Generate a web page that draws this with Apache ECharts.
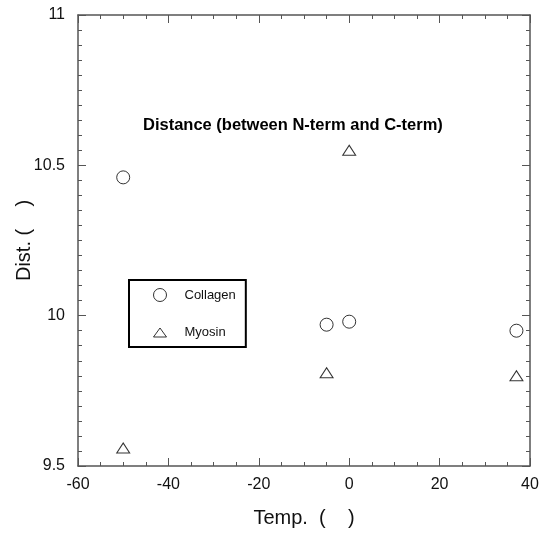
<!DOCTYPE html>
<html><head><meta charset="utf-8">
<script src="https://cdn.jsdelivr.net/npm/echarts@6/dist/echarts.min.js"></script>
<style>html,body{margin:0;padding:0;background:#fff}#c{width:544px;height:534px}</style>
</head><body><div id="c"></div>
<script>
const collagenTemp = [-50, -5, 0, 37];
const collagenDist = [10.46, 9.97, 9.98, 9.95];
const myosinTemp = [-50, -5, 0, 37];
const myosinDist = [9.56, 9.81, 10.55, 9.80];
const xTicks = [-60, -40, -20, 0, 20, 40];
const yTicks = [9.5, 10, 10.5, 11];
const titleText = 'Distance (between N-term and C-term)';

const font = 'Liberation Sans, Arial, sans-serif';
const axisColor = '#555';
function xAx(pos, show) {
  return {
    type: 'value', position: pos, min: -60, max: 40, interval: 20,
    name: show ? 'Temp.  (    )' : '', nameLocation: 'middle', nameGap: 42,
    nameMoveOverlap: false,
    nameTextStyle: {fontFamily: font, fontSize: 20, color: '#111'},
    axisLine: {show: true, onZero: false, lineStyle: {color: axisColor, width: 1.5}},
    axisTick: {show: true, inside: true, length: 8, lineStyle: {color: axisColor}},
    minorTick: {show: true, splitNumber: 4, length: 4, lineStyle: {color: axisColor}},
    axisLabel: {show: show, margin: 11, fontFamily: font, fontSize: 16, color: '#111',
      formatter: v => xTicks.includes(v) ? String(v) : ''},
    splitLine: {show: false}
  };
}
function yAx(pos, show) {
  return {
    type: 'value', position: pos, min: 9.5, max: 11, interval: 0.5,
    name: show ? 'Dist. (    )' : '', nameLocation: 'middle', nameGap: 44,
    nameMoveOverlap: false,
    nameTextStyle: {fontFamily: font, fontSize: 20, color: '#111'},
    axisLine: {show: true, onZero: false, lineStyle: {color: axisColor, width: 1.5}},
    axisTick: {show: true, inside: true, length: 8, lineStyle: {color: axisColor}},
    minorTick: {show: true, splitNumber: 10, length: 4, lineStyle: {color: axisColor}},
    axisLabel: {show: show, margin: 13, fontFamily: font, fontSize: 16, color: '#111',
      formatter: v => yTicks.includes(v) ? String(v) : ''},
    splitLine: {show: false}
  };
}
const chart = echarts.init(document.getElementById('c'));
chart.setOption({
  animation: false,
  backgroundColor: '#fff',
  title: {text: titleText, left: 143, top: 117, padding: 0,
    textStyle: {fontFamily: font, fontSize: 16.5, fontWeight: 'bold', color: '#000'}},
  grid: {left: 78, right: 14, top: 15, bottom: 68, containLabel: false, outerBoundsMode: 'none'},
  xAxis: [xAx('bottom', true), xAx('top', false)],
  yAxis: [yAx('left', true), yAx('right', false)],
  legend: {
    orient: 'vertical', left: 129, top: 280,
    padding: [8, 10, 8, 24],
    itemGap: 24, itemWidth: 13, itemHeight: 13,
    borderColor: '#000', borderWidth: 2, borderRadius: 0,
    itemStyle: {borderWidth: 1},
    textStyle: {fontFamily: font, fontSize: 13, color: '#111', padding: [0, 0, 0, 13]},
    data: [
      {name: 'Collagen', icon: 'circle'},
      {name: 'Myosin', icon: 'path://M6.5,2 L13,11 L0,11 Z'}
    ]
  },
  series: [
    {name: 'Collagen', type: 'scatter', symbol: 'circle', symbolSize: 13,
      itemStyle: {color: '#fff', borderColor: '#000', borderWidth: 1},
      data: collagenTemp.map((t, i) => [t, collagenDist[i]])},
    {name: 'Myosin', type: 'scatter', symbol: 'triangle', symbolSize: [13, 10],
      itemStyle: {color: '#fff', borderColor: '#000', borderWidth: 1},
      data: myosinTemp.map((t, i) => [t, myosinDist[i]])}
  ]
});
</script></body></html>
